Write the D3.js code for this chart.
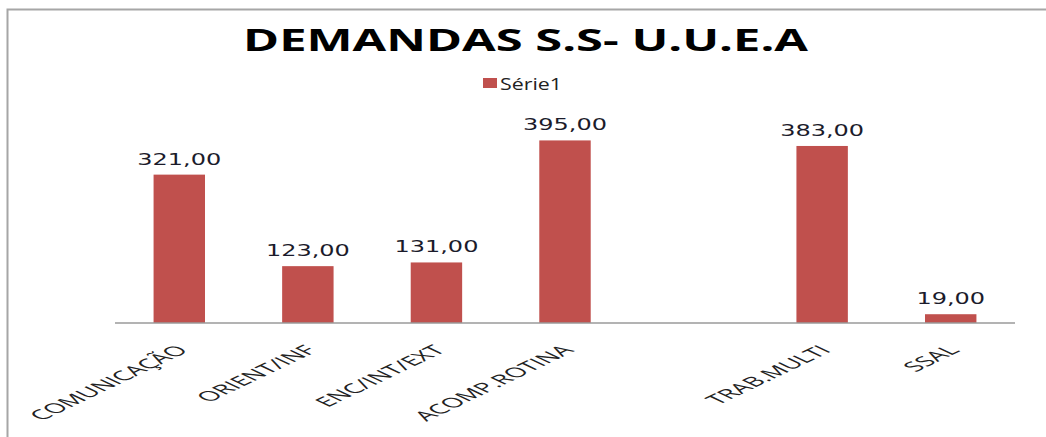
<!DOCTYPE html>
<html>
<head>
<meta charset="utf-8">
<script src="https://cdn.jsdelivr.net/npm/d3@7"></script>
<style>
  body { margin: 0; background: #fff; }
  svg { display: block; }
</style>
</head>
<body>
<div id="chart"></div>
<script>
// categories (the empty one makes the gap before TRAB.MULTI)
const categories = ["COMUNICAÇÃO", "ORIENT/INF", "ENC/INT/EXT", "ACOMP.ROTINA", "", "TRAB.MULTI", "SSAL"];
const values = [321, 123, 131, 395, null, 383, 19];
const seriesName = "Série1";
const chartTitle = "DEMANDAS S.S- U.U.E.A";

const W = 1046, H = 437;
const margin = {top: 115, left: 115, bottom: 114, right: 31};

const svg = d3.select("#chart").append("svg")
  .attr("width", W)
  .attr("height", H);

// outer frame (only top and left edges visible)
svg.append("rect")
  .attr("x", 7.5).attr("y", 9.5)
  .attr("width", W + 20).attr("height", H + 20)
  .attr("fill", "#fff")
  .attr("stroke", "#a6a6a6")
  .attr("stroke-width", 2);

const x = d3.scaleBand()
  .domain(d3.range(categories.length))
  .range([margin.left, W - margin.right])
  .paddingInner(0.6)
  .paddingOuter(0.3);

const y = d3.scaleLinear()
  .domain([0, 450])
  .range([H - margin.bottom, margin.top]);

const data = categories.map((c, i) => ({i: i, cat: c, v: values[i]}));

// bars
svg.selectAll("rect.bar")
  .data(data.filter(d => d.v != null))
  .enter()
  .append("rect")
  .attr("class", "bar")
  .attr("x", d => x(d.i))
  .attr("width", x.bandwidth())
  .attr("y", d => y(d.v))
  .attr("height", d => y(0) - y(d.v))
  .attr("fill", "#c0504d");

// category axis line
svg.append("line")
  .attr("x1", margin.left).attr("x2", W - margin.right)
  .attr("y1", y(0)).attr("y2", y(0))
  .attr("stroke", "#9a9a9a")
  .attr("stroke-width", 1.5);

// value labels
const fmt = v => d3.format(".2f")(v).replace(".", ",");
svg.selectAll("text.val")
  .data(data.filter(d => d.v != null))
  .enter()
  .append("text")
  .attr("class", "val")
  .attr("transform", d => `translate(${x(d.i) + x.bandwidth() / 2},${y(d.v) - 10}) scale(1.5,1)`)
  .attr("text-anchor", "middle")
  .style("font-family", "DejaVu Sans")
  .style("font-size", "16px")
  .style("fill", "#1b1b2b")
  .text(d => fmt(d.v));

// category labels, slanted
svg.selectAll("text.cat")
  .data(data.filter(d => d.cat !== ""))
  .enter()
  .append("text")
  .attr("class", "cat")
  .attr("transform", d => `translate(${x(d.i) + x.bandwidth() / 2 + 10},${y(0) + 28}) scale(2.1,1) rotate(-45)`)
  .attr("text-anchor", "end")
  .style("font-family", "Open Sans")
  .style("font-size", "13.5px")
  .style("fill", "#222")
  .text(d => d.cat);

// title
svg.append("text")
  .attr("x", 243).attr("y", 51)
  .attr("textLength", 565)
  .attr("lengthAdjust", "spacingAndGlyphs")
  .style("font-family", "Open Sans")
  .style("font-weight", "bold")
  .style("font-size", "31px")
  .style("fill", "#000")
  .text(chartTitle);

// legend
const legend = svg.append("g").attr("transform", "translate(483,78)");
legend.append("rect")
  .attr("width", 14).attr("height", 10)
  .attr("fill", "#c0504d");
legend.append("text")
  .attr("x", 17).attr("y", 12)
  .attr("textLength", 62)
  .attr("lengthAdjust", "spacingAndGlyphs")
  .style("font-family", "Open Sans")
  .style("font-size", "16.5px")
  .style("fill", "#222")
  .text(seriesName);
</script>
</body>
</html>
